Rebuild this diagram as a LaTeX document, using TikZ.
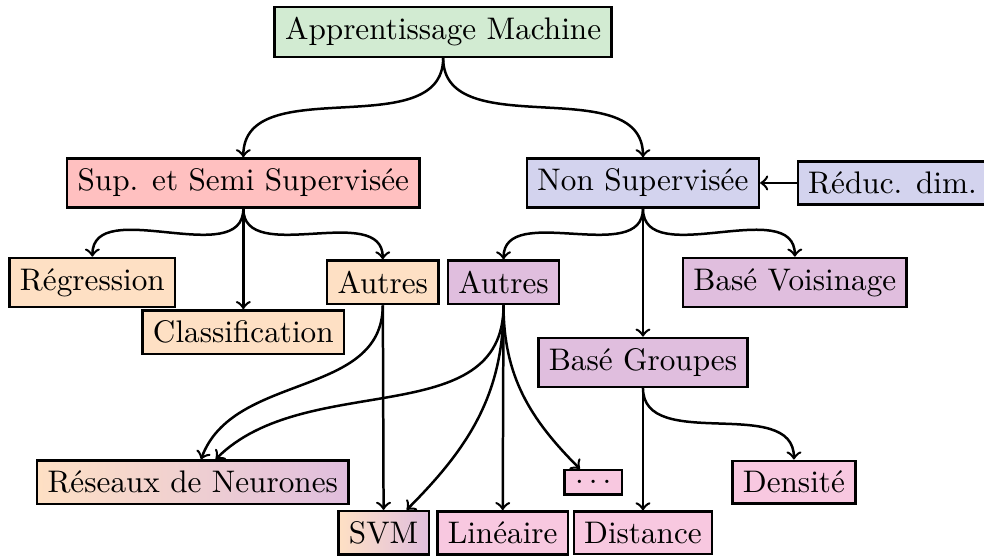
\documentclass[tikz,border=0pt]{standalone}
\usetikzlibrary{shadings}

\definecolor{vertpale}{RGB}{210,235,210}
\definecolor{rougepale}{RGB}{255,192,192}
\definecolor{bleupale}{RGB}{211,211,238}
\definecolor{orangepale}{RGB}{254,224,196}
\definecolor{violetpale}{RGB}{224,190,222}
\definecolor{rosepale}{RGB}{248,200,224}

\begin{document}
\begin{tikzpicture}[thick]

      \useasboundingbox (0,0) rectangle (11.08,-6.26);

      \begin{scope}[every node/.style={rectangle,draw}]
        \node[fill=vertpale]   (am)       at (4.99,-0.36) {Apprentissage Machine};
        \node[fill=rougepale]  (sup)      at (2.74,-2.06) {Sup. et Semi Supervisée};
        \node[fill=bleupale]   (nonsup)   at (7.24,-2.06) {Non Supervisée};
        \node[fill=bleupale]   (reduc)    at (10.05,-2.06) {Réduc. dim.};
        \node[fill=orangepale] (regr)     at (1.04,-3.18) {Régression};
        \node[fill=orangepale] (classif)  at (2.74,-3.74) {Classification};
        \node[fill=orangepale] (autres1)  at (4.31,-3.18) {Autres};
        \node[fill=violetpale] (autres2)  at (5.67,-3.18) {Autres};
        \node[fill=violetpale] (voisin)   at (8.95,-3.18) {Basé Voisinage};
        \node[fill=violetpale] (groupes)  at (7.24,-4.08) {Basé Groupes};
        \node[left color=orangepale,right color=violetpale] (reseaux) at (2.17,-5.43) {Réseaux de Neurones};
        \node[fill=rosepale]   (dots)     at (6.68,-5.43) {$\ldots$};
        \node[fill=rosepale]   (densite)  at (8.94,-5.43) {Densité};
        \node[left color=orangepale,right color=violetpale] (svm) at (4.32,-6.00) {SVM};
        \node[fill=rosepale]   (lineaire) at (5.66,-6.00) {Linéaire};
        \node[fill=rosepale]   (distance) at (7.24,-6.00) {Distance};
      \end{scope}

      \begin{scope}[every edge/.style={draw,->}]
        \path (am)      edge[out=-90,in=90] (sup);
        \path (am)      edge[out=-90,in=90] (nonsup);
        \path (reduc)   edge (nonsup);
        \path (sup)     edge[out=-90,in=90] (regr);
        \path (sup)     edge (classif);
        \path (sup)     edge[out=-90,in=90] (autres1);
        \path (nonsup)  edge[out=-90,in=90] (autres2);
        \path (nonsup)  edge (groupes);
        \path (nonsup)  edge[out=-90,in=90] (voisin);
        \path (autres1) edge[out=-90,in=70] (reseaux);
        \path (autres1) edge (svm);
        \path (autres2) edge[out=-90,in=45] (reseaux);
        \path (autres2) edge[out=-90,in=45] (svm);
        \path (autres2) edge (lineaire);
        \path (autres2) edge[out=-90,in=135] (dots);
        \path (groupes) edge (distance);
        \path (groupes) edge[out=-90,in=90] (densite);
      \end{scope}

    \end{tikzpicture}
\end{document}
